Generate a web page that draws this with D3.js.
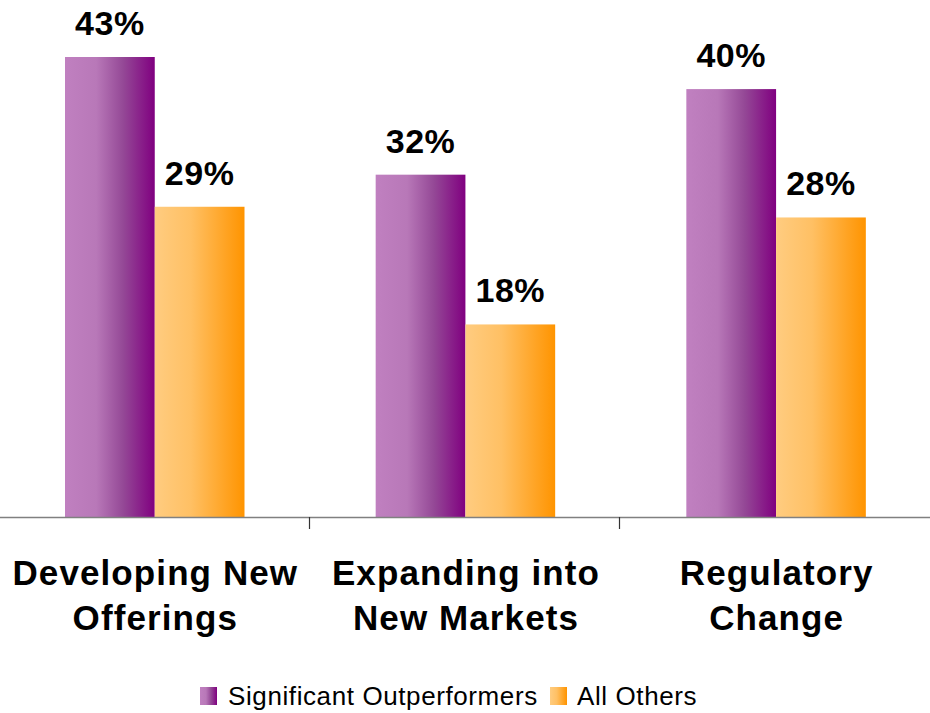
<!DOCTYPE html>
<html><head><meta charset="utf-8">
<script src="https://cdn.jsdelivr.net/npm/d3@7"></script>
<style>body{margin:0;background:#fff}svg{display:block;font-family:"Liberation Sans",Arial,sans-serif}</style>
</head><body><svg id="c" width="930" height="713"></svg>
<script>
const categories = [["Developing New","Offerings"],["Expanding into","New Markets"],["Regulatory","Change"]];
const seriesNames = ["Significant Outperformers","All Others"];
const outperformers = [43,32,40];
const allOthers = [29,18,28];
const series = [outperformers, allOthers];

const svg = d3.select("#c");
const defs = svg.append("defs");
const grads = [
  {id:"gP", stops:[["0%","#C080C0"],["35%","#B878B8"],["65%","#944896"],["100%","#800080"]]},
  {id:"gO", stops:[["0%","#FFCC80"],["40%","#FFC064"],["100%","#FF9400"]]}
];
grads.forEach(g=>{
  const lg = defs.append("linearGradient").attr("id",g.id).attr("x1","0").attr("x2","1").attr("y1","0").attr("y2","0");
  g.stops.forEach(s=>lg.append("stop").attr("offset",s[0]).attr("stop-color",s[1]));
});
const fills = ["url(#gP)","url(#gO)"];

const y0 = 517;
const y = d3.scaleLinear().domain([0,43]).range([y0,57]);
const x = d3.scaleBand().domain(d3.range(categories.length)).range([0,932]);
const xs = d3.scaleBand().domain(d3.range(series.length)).range([65,244.5]);

const g = svg.append("g");
series.forEach((vals,si)=>{
  g.selectAll(".b"+si).data(vals).enter().append("rect")
    .attr("x",(d,i)=>x(i)+xs(si)).attr("width",xs.bandwidth())
    .attr("y",d=>y(d)).attr("height",d=>y0-y(d)).attr("fill",fills[si]);
  g.selectAll(".l"+si).data(vals).enter().append("text")
    .attr("x",(d,i)=>x(i)+xs(si)+xs.bandwidth()/2).attr("y",d=>y(d)-22)
    .attr("text-anchor","middle").attr("font-size","34px").attr("font-weight","bold")
    .attr("letter-spacing","0.5px")
    .text(d=>d+"%");
});

// axis
svg.append("line").attr("x1",0).attr("x2",930).attr("y1",y0+0.5).attr("y2",y0+0.5).attr("stroke","#808080").attr("stroke-width",1.5);
[1,2].forEach(i=>{
  svg.append("line").attr("x1",Math.round(x(i))-1.5).attr("x2",Math.round(x(i))-1.5).attr("y1",y0).attr("y2",y0+12).attr("stroke","#333").attr("stroke-width",1.2);
});

categories.forEach((lines,i)=>{
  const t = svg.append("text").attr("text-anchor","middle").attr("font-size","35px").attr("font-weight","bold").attr("letter-spacing","1.1px");
  lines.forEach((ln,j)=>t.append("tspan").attr("x",x(i)+x.bandwidth()/2).attr("y",585+j*45).text(ln));
});

// legend
const leg = [{x:200,tx:228},{x:550,tx:577}];
seriesNames.forEach((n,i)=>{
  svg.append("rect").attr("x",leg[i].x).attr("y",687).attr("width",17).attr("height",18).attr("fill",fills[i]);
  svg.append("text").attr("x",leg[i].tx).attr("y",705).attr("font-size","26px").attr("letter-spacing","0.6px").text(n);
});
</script></body></html>
